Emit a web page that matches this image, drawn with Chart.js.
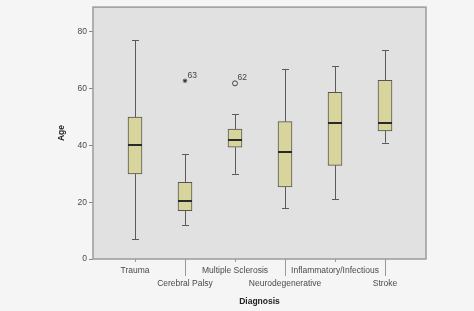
<!DOCTYPE html>
<html>
<head>
<meta charset="utf-8">
<script src="https://cdn.jsdelivr.net/npm/chart.js@4/dist/chart.umd.min.js"></script>
<style>
  html, body { margin: 0; padding: 0; background: #f5f5f5; }
  #wrap { width: 474px; height: 311px; }
</style>
</head>
<body>
<div id="wrap"><canvas id="chart" width="474" height="311"></canvas></div>
<script>
const categories = ['Trauma', 'Cerebral Palsy', 'Multiple Sclerosis', 'Neurodegenerative', 'Inflammatory/Infectious', 'Stroke'];
const whiskerLow = [7, 12, 30, 18, 21, 41];
const q1 = [30, 17, 39.4, 25.4, 33, 45.1];
const median = [40, 20.5, 42, 37.8, 48, 47.8];
const q3 = [50, 27, 45.8, 48.4, 58.7, 63];
const whiskerHigh = [77, 37, 51, 67, 68, 73.6];
const yTicks = [0, 20, 40, 60, 80];
// outliers: [category index, value, case label]
const extremes = [[1, 62.8, '63']];
const outliers = [[2, 61.9, '62']];

const boxData = categories.map((c, i) => ({ x: i, y: [q1[i], q3[i]] }));

const boxPlugin = {
  id: 'boxPlugin',
  beforeDraw(chart) {
    const { ctx, chartArea: a } = chart;
    ctx.save();
    ctx.fillStyle = '#f5f5f5';
    ctx.fillRect(0, 0, chart.width, chart.height);
    ctx.fillStyle = '#e1e1e1';
    ctx.fillRect(a.left, a.top, a.right - a.left, a.bottom - a.top);
    ctx.restore();
  },
  beforeDatasetsDraw(chart) {
    const { ctx } = chart;
    const x = chart.scales.x, y = chart.scales.y;
    ctx.save();
    ctx.strokeStyle = '#5a5a5a';
    ctx.lineWidth = 1;
    categories.forEach((c, i) => {
      const px = Math.round(x.getPixelForValue(i)) + 0.5;
      ctx.beginPath();
      ctx.moveTo(px, y.getPixelForValue(whiskerHigh[i]));
      ctx.lineTo(px, y.getPixelForValue(q3[i]));
      ctx.moveTo(px, y.getPixelForValue(q1[i]));
      ctx.lineTo(px, y.getPixelForValue(whiskerLow[i]));
      const hi = Math.round(y.getPixelForValue(whiskerHigh[i])) + 0.5;
      const lo = Math.round(y.getPixelForValue(whiskerLow[i])) + 0.5;
      ctx.moveTo(px - 3.5, hi); ctx.lineTo(px + 3.5, hi);
      ctx.moveTo(px - 3.5, lo); ctx.lineTo(px + 3.5, lo);
      ctx.stroke();
    });
    ctx.restore();
  },
  afterDatasetsDraw(chart) {
    const { ctx, chartArea: a } = chart;
    const x = chart.scales.x, y = chart.scales.y;
    ctx.save();
    ctx.strokeStyle = '#2a2a2a';
    ctx.lineWidth = 2;
    categories.forEach((c, i) => {
      const px = x.getPixelForValue(i);
      const py = Math.round(y.getPixelForValue(median[i]));
      ctx.beginPath();
      ctx.moveTo(px - 7, py); ctx.lineTo(px + 7, py);
      ctx.stroke();
    });
    // case labels of outliers
    ctx.fillStyle = '#444';
    ctx.font = '8.5px "Liberation Sans", Arial, sans-serif';
    ctx.textBaseline = 'middle';
    extremes.concat(outliers).forEach(o => {
      ctx.fillText(o[2], x.getPixelForValue(o[0]) + 2.5, y.getPixelForValue(o[1]) - 5.5);
    });
    // frame
    ctx.strokeStyle = '#9a9a9a';
    ctx.lineWidth = 1.5;
    ctx.strokeRect(a.left, a.top, a.right - a.left, a.bottom - a.top);
    // x ticks, alternating short and long
    ctx.strokeStyle = '#999';
    ctx.lineWidth = 1;
    categories.forEach((c, i) => {
      const px = Math.round(x.getPixelForValue(i)) + 0.5;
      ctx.beginPath();
      ctx.moveTo(px, a.bottom);
      ctx.lineTo(px, a.bottom + (i % 2 ? 17 : 3));
      ctx.stroke();
    });
    ctx.restore();
  }
};

new Chart(document.getElementById('chart'), {
  type: 'bar',
  data: {
    datasets: [{
      type: 'bar',
      data: boxData,
      backgroundColor: '#d7d59c',
      borderColor: '#555',
      borderWidth: 1,
      borderSkipped: false,
      barThickness: 14
    }, {
      type: 'scatter',
      data: extremes.map(o => ({ x: o[0], y: o[1] })),
      pointStyle: 'star',
      radius: 2.2,
      backgroundColor: 'rgba(0,0,0,0)',
      borderColor: '#333',
      borderWidth: 1
    }, {
      type: 'scatter',
      data: outliers.map(o => ({ x: o[0], y: o[1] })),
      pointStyle: 'circle',
      radius: 2.5,
      backgroundColor: 'rgba(0,0,0,0)',
      borderColor: '#444',
      borderWidth: 1
    }]
  },
  options: {
    responsive: false,
    animation: false,
    layout: { padding: { left: 0, top: 6, right: 48, bottom: 0 } },
    plugins: { legend: { display: false }, tooltip: { enabled: false } },
    scales: {
      x: {
        type: 'linear',
        min: -0.84,
        max: 5.82,
        offset: false,
        afterBuildTicks: s => { s.ticks = categories.map((c, i) => ({ value: i })); },
        afterFit: s => { s.height = 52; },
        grid: { display: false, drawTicks: false },
        border: { display: false },
        ticks: {
          autoSkip: false,
          maxRotation: 0,
          padding: 4.5,
          color: '#4a4a4a',
          font: { family: '"Liberation Sans", Arial, sans-serif', size: 8.5, lineHeight: 1.6 },
          callback: v => (v % 2 ? ['', categories[v]] : [categories[v]])
        },
        title: {
          display: true,
          text: 'Diagnosis',
          color: '#222',
          padding: { top: 0, bottom: 3.9 },
          font: { family: '"Liberation Sans", Arial, sans-serif', size: 8.5, weight: 'bold' }
        }
      },
      y: {
        min: 0,
        max: 88.77,
        afterBuildTicks: s => { s.ticks = yTicks.map(v => ({ value: v })); },
        afterFit: s => { s.width = 93; },
        grid: { drawOnChartArea: false, tickLength: 4, color: '#888' },
        border: { display: false },
        ticks: {
          padding: 2,
          color: '#4a4a4a',
          font: { family: '"Liberation Sans", Arial, sans-serif', size: 8.5 }
        },
        title: {
          display: true,
          text: 'Age',
          color: '#222',
          padding: { top: 56.9, bottom: 0 },
          font: { family: '"Liberation Sans", Arial, sans-serif', size: 8.5, weight: 'bold' }
        }
      }
    }
  },
  plugins: [boxPlugin]
});
</script>
</body>
</html>
